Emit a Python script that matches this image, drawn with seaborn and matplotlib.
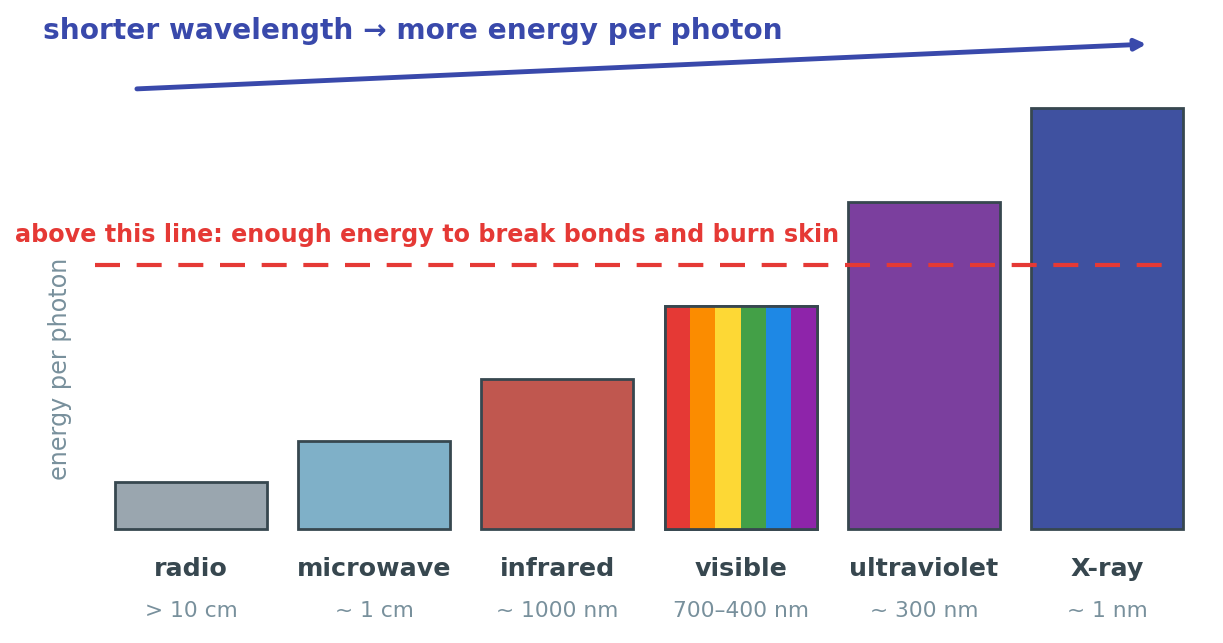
import numpy as np
import pandas as pd
import seaborn as sns
import matplotlib
matplotlib.use("Agg")
import matplotlib.pyplot as plt
from matplotlib.patches import Rectangle

bands = ["radio", "microwave", "infrared", "visible", "ultraviolet", "X-ray"]
wavelengths = ["> 10 cm", "~ 1 cm", "~ 1000 nm", "700\u2013400 nm", "~ 300 nm", "~ 1 nm"]
energy = [0.5, 0.94, 1.6, 2.37, 3.48, 4.48]
bar_colors = ["#9AA6AF", "#7FB0C8", "#C0574F", "#FFFFFF", "#7B3F9E", "#3F51A0"]
rainbow = ["#E53935", "#FB8C00", "#FDD835", "#43A047", "#1E88E5", "#8E24AA"]
threshold = 2.81

edge = "#37474F"
sns.set_theme(style="white")
plt.rcParams['font.family'] = ['DejaVu Sans']

fig = plt.figure(figsize=(12.23, 6.43), dpi=100)
W, H = 1223, 643
px = 94.0  # pixels per energy unit
ax = fig.add_axes([81 / W, (H - 529) / H, 1136 / W, 5.4 * px / H])

df = pd.DataFrame({"band": bands, "energy": energy})
sns.barplot(data=df, x="band", y="energy", hue="band", palette=bar_colors,
            width=0.83, saturation=1, legend=False, ax=ax,
            edgecolor=edge, linewidth=2)
for p in ax.patches:
    p.set_clip_on(False)
ax.set_xlim(-0.6, 5.6)
ax.set_ylim(0, 5.4)

# rainbow stripes inside the visible bar
vis = bands.index("visible")
bw = 0.83
sw = bw / len(rainbow)
for k, c in enumerate(rainbow):
    ax.add_patch(Rectangle((vis - bw / 2 + k * sw, 0), sw, energy[vis],
                           facecolor=c, edgecolor="none", zorder=2.5))
ax.add_patch(Rectangle((vis - bw / 2, 0), bw, energy[vis], facecolor="none",
                       edgecolor=edge, linewidth=2, zorder=2.6, clip_on=False))

# threshold line
ax.plot([-0.524, 5.30], [threshold, threshold], color="#E53935", lw=3,
        dashes=(6, 4), zorder=4, clip_on=False)
fig.text(15 / W, 1 - 235 / H, "above this line: enough energy to break bonds and burn skin",
         color="#E53935", fontsize=17.2, fontweight="bold", va="center", ha="left")

# arrow on top
ax.annotate("", xy=(5.23, (529 - 44) / px), xytext=(-0.31, (529 - 89) / px),
            arrowprops=dict(arrowstyle="-|>", color="#3949AB", lw=3.5,
                            mutation_scale=16, capstyle="round"),
            annotation_clip=False)
fig.text(43 / W, 1 - 31 / H, "shorter wavelength \u2192 more energy per photon",
         color="#3949AB", fontsize=20.2, fontweight="bold", va="center", ha="left")

# category labels
ax.set_xticks(range(len(bands)))
ax.set_xticklabels([])
for i, (b, wl) in enumerate(zip(bands, wavelengths)):
    ax.text(i, -(569 - 529) / px, b, ha="center", va="center", fontsize=18.3,
            fontweight="bold", color=edge, clip_on=False)
    ax.text(i, -(611 - 529) / px, wl, ha="center", va="center", fontsize=15.7,
            color="#78909C", clip_on=False)

ax.set_yticks([])
ax.set_xlabel("")
ax.set_ylabel("")
fig.text(60 / W, 1 - 369 / H, "energy per photon", rotation=90, color="#78909C",
         fontsize=17.2, va="center", ha="center")
sns.despine(ax=ax, left=True, bottom=True)

fig.savefig("out.png", dpi=100)
